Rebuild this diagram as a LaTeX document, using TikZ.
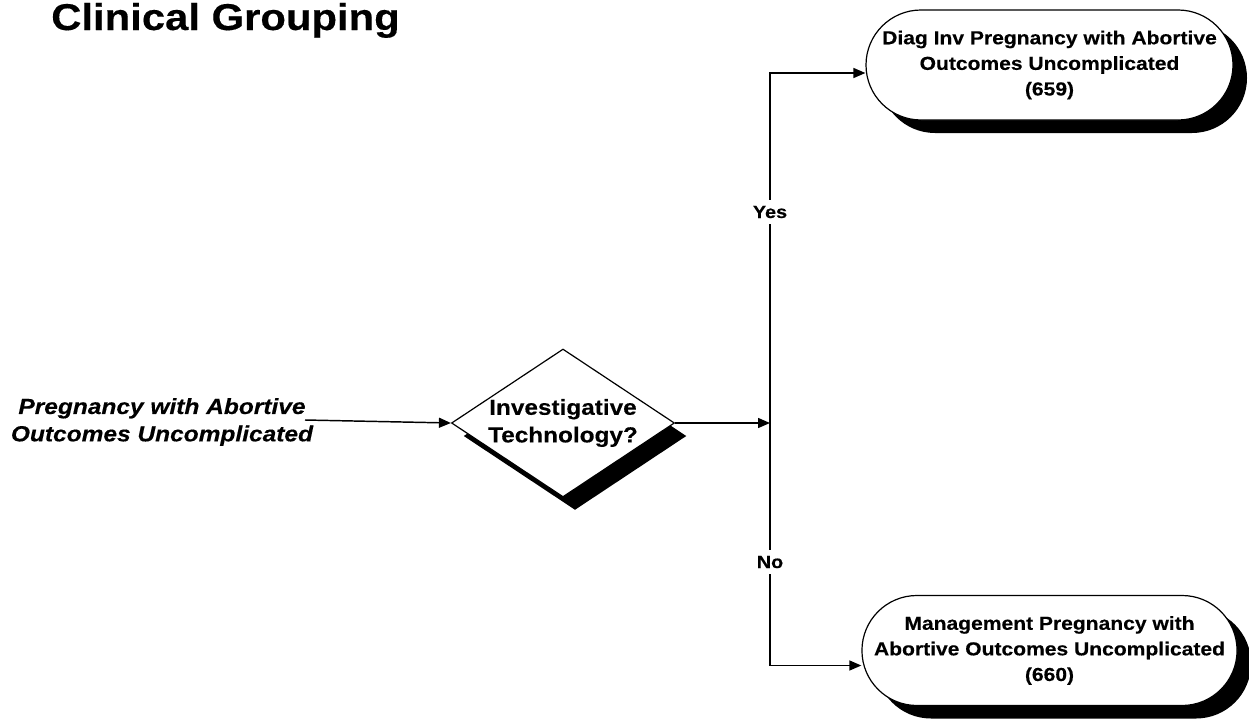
\documentclass[tikz,border=0pt]{standalone}
\usepackage{fontspec}
\setmainfont{Liberation Sans}[FakeStretch=1.12,FakeBold=0.3]
\usetikzlibrary{shapes.geometric,shapes.misc,shadows,arrows.meta,calc}
\begin{document}
\begin{tikzpicture}[x=0.75pt,y=-0.75pt,
  every node/.style={inner sep=0pt},
  arr/.style={line width=1.1pt,-{Triangle[length=9pt,width=7.5pt]}},
  tshadow/.style={drop shadow={shadow xshift=10.5pt,shadow yshift=-9.75pt,fill=black,opacity=1}},
  dshadow/.style={drop shadow={shadow xshift=9pt,shadow yshift=-9.75pt,fill=black,opacity=1}},
  term/.style={rounded rectangle,draw,line width=0.9pt,fill=white,tshadow,
    minimum width=275.25pt,minimum height=82.5pt,align=center,
    font=\fontsize{14.1pt}{19.2pt}\selectfont\bfseries},
  dia/.style={diamond,draw,line width=0.9pt,fill=white,dshadow,aspect=1.5,
    minimum width=167.25pt,minimum height=111pt,inner sep=-10pt,align=center,
    font=\fontsize{16.3pt}{20.7pt}\selectfont\bfseries},
  lab/.style={fill=white,inner xsep=2pt,inner ysep=4pt,
    font=\fontsize{13.3pt}{16pt}\selectfont\bfseries}
]
\useasboundingbox (0,0) rectangle (1249,721);
\fill[white] (0,0) rectangle (1249,721);

\node[anchor=base west,font=\fontsize{28pt}{32pt}\selectfont\bfseries] (title) at (51,30) {Clinical Grouping};

\node[align=center,font=\fontsize{16.4pt}{20.5pt}\selectfont\bfseries\itshape] (src) at (162,422)
  {Pregnancy with Abortive\\Outcomes Uncomplicated};
\coordinate (srcend) at (305,420);

\node[dia] (dec) at (563,423) {Investigative\\Technology?};

\node[term] (t1) at (1049.5,65) {Diag Inv Pregnancy with Abortive\\Outcomes Uncomplicated\\(659)};
\node[term] (t2) at (1049.5,650.5) {Management Pregnancy with\\Abortive Outcomes Uncomplicated\\(660)};

\coordinate (j) at (770,423);
\draw[arr] (srcend) -- (dec.west);
\draw[arr] (dec.east) -- (j);
\draw[arr] (j) |- ($(t1.west)+(0,8)$);
\draw[arr] (j) |- ($(t2.west)+(0,15)$);

\node[lab] (yes) at (770,212) {Yes};
\node[lab] (no) at (770,562) {No};
\end{tikzpicture}
\end{document}
